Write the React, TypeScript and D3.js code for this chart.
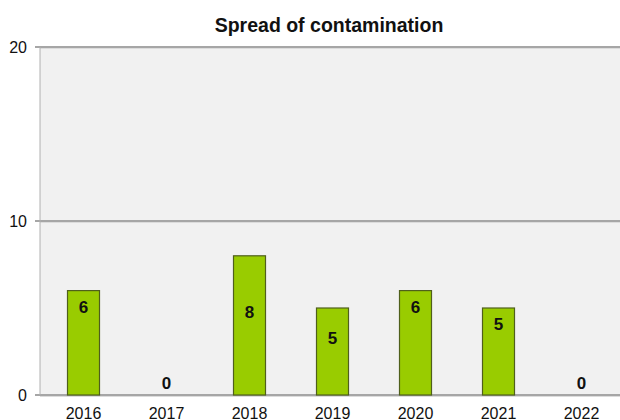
import React from "react";
import * as d3 from "d3";

const years = ["2016", "2017", "2018", "2019", "2020", "2021", "2022"];
const counts = [6, 0, 8, 5, 6, 5, 0];
const yTicks = [0, 10, 20];
const labelDy = [16, 0, 56, 30, 16, 16, 0];

const W = 620;
const H = 420;
const left = 40;
const right = 620;
const top = 47;
const bottom = 395;

export default function App() {
  const x = d3.scaleBand<string>().domain(years).range([42, 623]);
  const y = d3.scaleLinear().domain([0, 20]).range([bottom, top]);
  const bw = 32;
  const font = "Liberation Sans, Arial, sans-serif";
  return (
    <svg
      width={W}
      height={H}
      style={{ position: "absolute", left: 0, top: 0, background: "#fff" }}
      fontFamily={font}
    >
      <rect x={left} y={top} width={right - left} height={bottom - top} fill="#f1f1f1" />
      {yTicks.map((t) => (
        <g key={t}>
          <line x1={left} x2={right} y1={y(t) + 1.5} y2={y(t) + 1.5} stroke="#dcdcdc" strokeWidth={1} />
          <line x1={35} x2={right} y1={y(t)} y2={y(t)} stroke="#a6a6a6" strokeWidth={2} />
          <text x={27} y={y(t)} dy="0.35em" textAnchor="end" fontSize={16} fill="#111">
            {t}
          </text>
        </g>
      ))}
      <line x1={left} x2={left} y1={top} y2={bottom} stroke="#b0b0b0" strokeWidth={1} />
      {years.map((yr, i) => {
        const cx = (x(yr) as number) + x.bandwidth() / 2;
        const v = counts[i];
        return (
          <g key={yr}>
            {v > 0 && (
              <rect
                x={cx - bw / 2}
                y={y(v)}
                width={bw}
                height={y(0) - y(v)}
                fill="#99cc00"
                stroke="#4f5f1c"
                strokeWidth={1.2}
              />
            )}
            <text
              x={cx}
              y={v > 0 ? y(v) + labelDy[i] : y(0) - 12}
              dy="0.35em"
              textAnchor="middle"
              fontSize={17}
              fontWeight="bold"
              fill="#111"
            >
              {v}
            </text>
            <text x={cx} y={419} textAnchor="middle" fontSize={16} fill="#111">
              {yr}
            </text>
          </g>
        );
      })}
      <text x={329} y={32} textAnchor="middle" fontSize={19.5} fontWeight="bold" fill="#111">
        Spread of contamination
      </text>
    </svg>
  );
}
